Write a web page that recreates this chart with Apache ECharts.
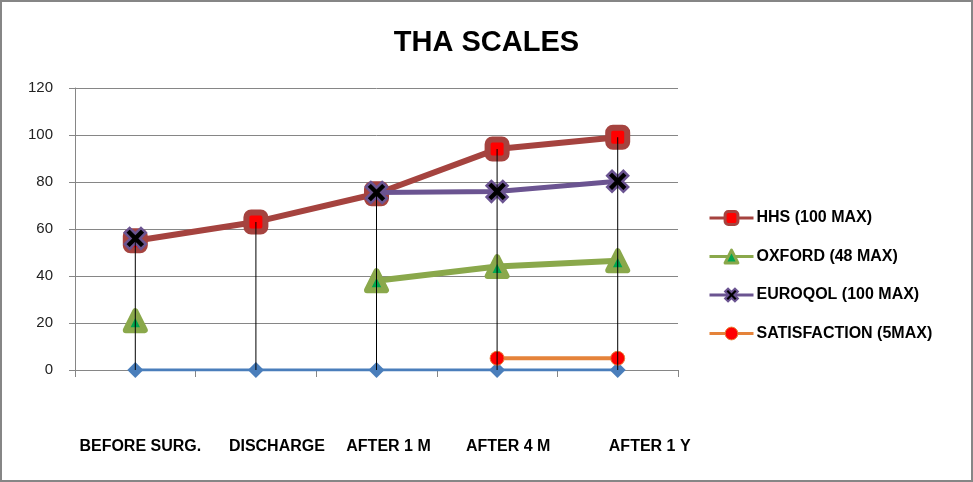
<!DOCTYPE html>
<html>
<head>
<meta charset="utf-8">
<script src="https://cdn.jsdelivr.net/npm/echarts@6/dist/echarts.min.js"></script>
<style>
html,body{margin:0;padding:0;background:#fff;}
#wrap{position:relative;width:973px;height:482px;}
#chart{position:absolute;left:0;top:0;width:973px;height:482px;}
#frame{position:absolute;left:0;top:0;width:973px;height:482px;box-sizing:border-box;border:2px solid #868686;pointer-events:none;}
</style>
</head>
<body>
<div id="wrap"><div id="chart"></div><div id="frame"></div></div>
<script>
const categories = ['BEFORE SURG.', 'DISCHARGE', 'AFTER 1 M', 'AFTER 4 M', 'AFTER 1 Y'];
const hhs = [55, 63, 75, 94, 99];
const oxford = [21, null, 38, 44, 46.5];
const euroqol = [56, null, 75.5, 76, 80.3];
const satisfaction = [null, null, null, 5, 5];
const baseline = [0, 0, 0, 0, 0];
const yTicks = { min: 0, max: 120, interval: 20 };

const seriesNames = ['HHS (100 MAX)', 'OXFORD (48 MAX)', 'EUROQOL (100 MAX)', 'SATISFACTION (5MAX)'];

// drop lines: highest value of each category
const dropTop = categories.map((_, i) => {
  const vals = [hhs[i], oxford[i], euroqol[i], satisfaction[i], baseline[i]].filter(v => v != null);
  return Math.max.apply(null, vals);
});

const FONT = 'Liberation Sans, Arial, sans-serif';
const labelPad = [10, 42, 24, 22, 64];
const rich = {};
labelPad.forEach((p, i) => {
  rich['r' + i] = { padding: [0, 0, 0, p], fontFamily: FONT, fontWeight: 'bold', fontSize: 16, color: '#000' };
});

const xPath = 'path://M0,2.3 L2.3,0 L5,2.7 L7.7,0 L10,2.3 L7.3,5 L10,7.7 L7.7,10 L5,7.3 L2.3,10 L0,7.7 L2.7,5 Z';

const C_HHS = '#A5433F', C_OX = '#8AA84B', C_EU = '#6B5491', C_SAT = '#E5833A', C_BASE = '#4A7EBB';

const chart = echarts.init(document.getElementById('chart'), null, { renderer: 'canvas' });
chart.setOption({
  animation: false,
  backgroundColor: '#fff',
  title: {
    text: 'THA SCALES',
    left: 'center',
    top: 23,
    textStyle: { fontFamily: FONT, fontWeight: 'bold', fontSize: 29, color: '#000' }
  },
  legend: {
    orient: 'vertical',
    left: 703,
    top: 205,
    itemWidth: 44,
    itemHeight: 16,
    itemGap: 22.5,
    textStyle: { fontFamily: FONT, fontWeight: 'bold', fontSize: 16, color: '#000', padding: [0, 0, 0, -2] },
    data: [
      { name: seriesNames[0], lineStyle: { width: 3 }, itemStyle: { borderWidth: 3 } },
      { name: seriesNames[1], lineStyle: { width: 3 }, itemStyle: { borderWidth: 3 } },
      { name: seriesNames[2], lineStyle: { width: 3 }, itemStyle: { borderWidth: 2 } },
      { name: seriesNames[3], lineStyle: { width: 3 }, itemStyle: { borderWidth: 1 } }
    ]
  },
  grid: { left: 75, right: 295, top: 88, bottom: 112, containLabel: false },
  xAxis: {
    type: 'category',
    data: categories,
    boundaryGap: true,
    axisLine: { show: true, lineStyle: { color: '#868686', width: 1 } },
    axisTick: { show: true, length: 7, alignWithLabel: false, lineStyle: { color: '#868686' } },
    axisLabel: {
      margin: 69,
      interval: 0,
      formatter: (v, i) => '{r' + i + '|' + v + '}',
      rich: rich
    },
    splitLine: { show: false }
  },
  yAxis: {
    type: 'value',
    min: yTicks.min,
    max: yTicks.max,
    interval: yTicks.interval,
    axisLine: { show: true, lineStyle: { color: '#868686', width: 1 } },
    axisTick: { show: true, length: 6, lineStyle: { color: '#868686' } },
    axisLabel: { margin: 22, fontFamily: FONT, fontSize: 15, color: '#222' },
    splitLine: { show: true, lineStyle: { color: '#868686', width: 1 } }
  },
  series: [
    {
      name: 'base',
      type: 'line',
      data: baseline,
      symbol: 'diamond',
      symbolSize: 16,
      lineStyle: { color: C_BASE, width: 3 },
      itemStyle: { color: C_BASE },
      z: 2
    },
    {
      name: seriesNames[0],
      type: 'line',
      data: hhs,
      symbol: 'roundRect',
      symbolSize: 19,
      lineStyle: { color: C_HHS, width: 6 },
      itemStyle: { color: '#FF0000', borderColor: C_HHS, borderWidth: 6 },
      z: 3
    },
    {
      name: seriesNames[1],
      type: 'line',
      data: oxford,
      symbol: 'triangle',
      symbolSize: 19,
      lineStyle: { color: C_OX, width: 6 },
      itemStyle: { color: '#00A650', borderColor: C_OX, borderWidth: 6, borderJoin: 'round' },
      z: 4
    },
    {
      name: seriesNames[2],
      type: 'line',
      data: euroqol,
      symbol: xPath,
      symbolSize: 21,
      lineStyle: { color: C_EU, width: 5 },
      itemStyle: { color: '#000', borderColor: C_EU, borderWidth: 2.5 },
      z: 5
    },
    {
      name: seriesNames[3],
      type: 'line',
      data: satisfaction,
      symbol: 'circle',
      symbolSize: 14,
      lineStyle: { color: C_SAT, width: 4 },
      itemStyle: { color: '#FF0000', borderColor: C_SAT, borderWidth: 1 },
      z: 6
    },
    {
      name: 'drop',
      type: 'bar',
      data: dropTop,
      barWidth: 1,
      itemStyle: { color: '#000' },
      silent: true,
      z: 10
    }
  ]
});
</script>
</body>
</html>
